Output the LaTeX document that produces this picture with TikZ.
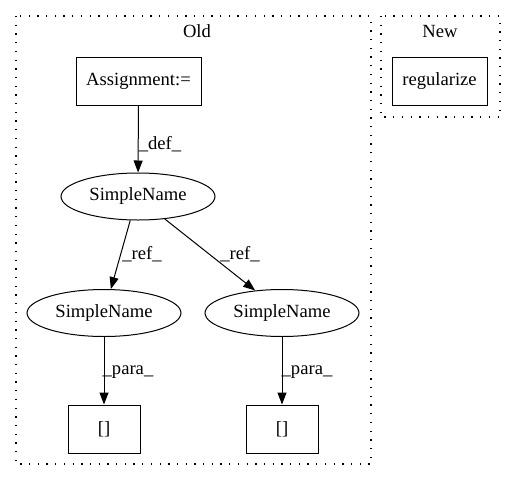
\documentclass[tikz,border=0pt]{standalone}
\usepackage{fontspec}
\setmainfont{Liberation Serif}
\usetikzlibrary{arrows.meta,shapes.geometric}
\begin{document}
\begin{tikzpicture}[x=1pt,y=-1pt,
  font=\fontsize{18.6}{21}\selectfont,
  cluster/.style={draw,line width=1.3pt,dash pattern=on 1.3pt off 7.4pt},
  boxnode/.style={draw,line width=1pt,rectangle,inner sep=0pt},
  ellnode/.style={draw,line width=1pt,ellipse,inner sep=0pt,minimum width=154pt,minimum height=47pt},
  edge/.style={draw,line width=1pt,-{Triangle[length=12pt,width=9pt]}},
  elabel/.style={inner sep=1pt}]
\useasboundingbox (0,0) rectangle (515,480);
\draw[cluster] (16,16) rectangle (371,464);
\draw[cluster] (381,16) rectangle (500,117);
\node (oldlbl) at (197,31) {Old};
\node (newlbl) at (440,31) {New};
\node[boxnode,minimum width=125pt,minimum height=48pt] (assign) at (138.5,81) {Assignment:=};
\node[boxnode,minimum width=95pt,minimum height=48pt] (reg) at (439.5,81) {regularize};
\node[ellnode] (sn0) at (138,196.5) {SimpleName};
\node[ellnode] (sn1) at (104,313) {SimpleName};
\node[ellnode] (sn2) at (282,313) {SimpleName};
\node[boxnode,minimum width=72pt,minimum height=48pt] (b1) at (104,429) {[]};
\node[boxnode,minimum width=72pt,minimum height=48pt] (b2) at (282,429) {[]};
\draw[edge] (assign) -- (sn0);
\draw[edge] (sn0.-108) -- (sn1.74);
\draw[edge] (sn0.-40) -- (sn2.140);
\draw[edge] (sn1) -- (b1);
\draw[edge] (sn2) -- (b2);
\node[elabel] (l1) at (160,144) {\_def\_};
\node[elabel] (l2) at (142,254) {\_ref\_};
\node[elabel] (l3) at (240,254) {\_ref\_};
\node[elabel] (l4) at (128,372) {\_para\_};
\node[elabel] (l5) at (307,372) {\_para\_};
\end{tikzpicture}
\end{document}
